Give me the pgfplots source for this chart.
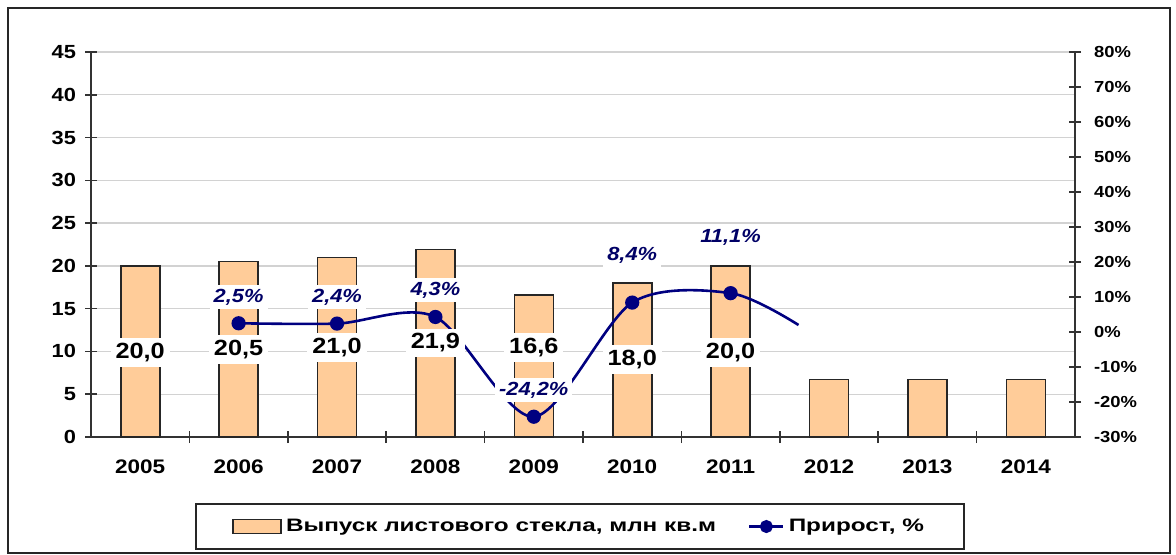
\documentclass[border=0pt]{standalone}
\usepackage{fontspec}
\setmainfont{Liberation Sans}[FakeStretch=1.15]
\newfontfamily\legfont{Liberation Sans}[FakeStretch=1.35]
\usepackage{pgfplots}
\pgfplotsset{compat=1.18}
\definecolor{barfill}{RGB}{255,204,153}
\definecolor{navyline}{RGB}{0,0,128}
\definecolor{navytext}{RGB}{0,0,102}
\begin{document}
\begin{tikzpicture}
\useasboundingbox (0pt,0pt) rectangle (588pt,277pt);
\draw[line width=1pt, black!85] (4pt,0.6pt) rectangle (585pt,273pt);
% bars
\begin{axis}[
  at={(45.5pt,58.5pt)}, anchor=south west, scale only axis,
  width=492pt, height=192.5pt,
  xmin=-0.5, xmax=9.5, ymin=0, ymax=45,
  ytick={0,5,...,45},
  axis x line*=bottom, axis y line*=left,
  xtick={0,...,9},
  xticklabels={2005,2006,2007,2008,2009,2010,2011,2012,2013,2014},
  major x tick style={draw=none},
  minor xtick={0.5,1.5,...,8.5},
  tick align=center, major tick length=6pt, minor tick length=6pt,
  tick style={black!80, line width=0.8pt},
  axis line style={black!80, line width=1pt},
  ymajorgrids, grid style={gray!35, line width=0.7pt},
  /pgf/number format/assume math mode=true,
  yticklabel style={font=\bfseries\fontsize{9.5}{10}\selectfont, xshift=-1pt},
  xticklabel style={font=\bfseries\fontsize{9.8}{10}\selectfont, yshift=-5pt},
]
\addplot[ybar, bar width=19.5pt, bar shift=0pt, fill=barfill, draw=black!85, line width=0.8pt]
coordinates {(0,20.0)(1,20.5)(2,21.0)(3,21.9)(4,16.6)(5,18.0)(6,20.0)(7,6.7)(8,6.7)(9,6.7)};
\end{axis}
% line
\begin{axis}[
  at={(45.5pt,58.5pt)}, anchor=south west, scale only axis,
  width=492pt, height=192.5pt,
  xmin=-0.5, xmax=9.5, ymin=-30, ymax=80,
  ytick={-30,-20,...,80},
  yticklabel={\pgfmathprintnumber{\tick}\%},
  axis x line=none, axis y line*=right,
  tick align=center, major tick length=6pt,
  tick style={black!80, line width=0.8pt},
  axis line style={black!80, line width=1pt},
  /pgf/number format/assume math mode=true,
  yticklabel style={font=\bfseries\fontsize{8}{9}\selectfont, xshift=3pt},
  legend style={at={(0.497,-0.2325)}, anchor=center, draw=black!85, line width=0.9pt,
    font=\legfont\bfseries\fontsize{9}{10}\selectfont, inner xsep=18pt, inner ysep=5.5pt,
    /tikz/every even column/.append style={column sep=14pt}},
  legend columns=2,
]
\addlegendimage{legend image code/.code={\draw[fill=barfill, draw=black!85, line width=0.8pt] (0cm,-0.12cm) rectangle (0.85cm,0.12cm);}}
\addlegendentry{Выпуск листового стекла, млн кв.м}
\addlegendimage{navyline, line width=1.3pt, mark=*, mark size=2.6pt}
\addlegendentry{Прирост, \%}
\addplot[navyline, line width=1.3pt, smooth, tension=0.5, mark=*, mark size=2.9pt,
  mark indices={1,2,3,4,5,6}, forget plot]
coordinates {(1,2.5)(2,2.4)(3,4.3)(4,-24.2)(5,8.4)(6,11.1)(6.69,2.0)};
\addplot[draw=none, forget plot, nodes near coords, point meta=explicit symbolic,
  nodes near coords style={anchor=center, fill=white, inner sep=2pt, text=navytext,
    font=\bfseries\itshape\fontsize{9.5}{10}\selectfont}]
coordinates {(1,10)[2{,}5\%] (2,10)[2{,}4\%] (3,12)[4{,}3\%] (4,-16.6)[-24{,}2\%] (5,22)[8{,}4\%] (6,26.9)[11{,}1\%]};
\end{axis}
% bar labels
\begin{axis}[
  at={(45.5pt,58.5pt)}, anchor=south west, scale only axis,
  width=492pt, height=192.5pt,
  xmin=-0.5, xmax=9.5, ymin=0, ymax=45, hide axis,
]
\addplot[draw=none, nodes near coords, point meta=explicit symbolic,
  nodes near coords style={anchor=center, fill=white, inner sep=2.5pt, text=black,
    font=\bfseries\fontsize{11}{12}\selectfont}]
coordinates {(0,9.9)[20{,}0] (1,10.2)[20{,}5] (2,10.5)[21{,}0] (3,11.0)[21{,}9] (4,10.5)[16{,}6] (5,9.1)[18{,}0] (6,9.9)[20{,}0]};
\end{axis}
\end{tikzpicture}
\end{document}
